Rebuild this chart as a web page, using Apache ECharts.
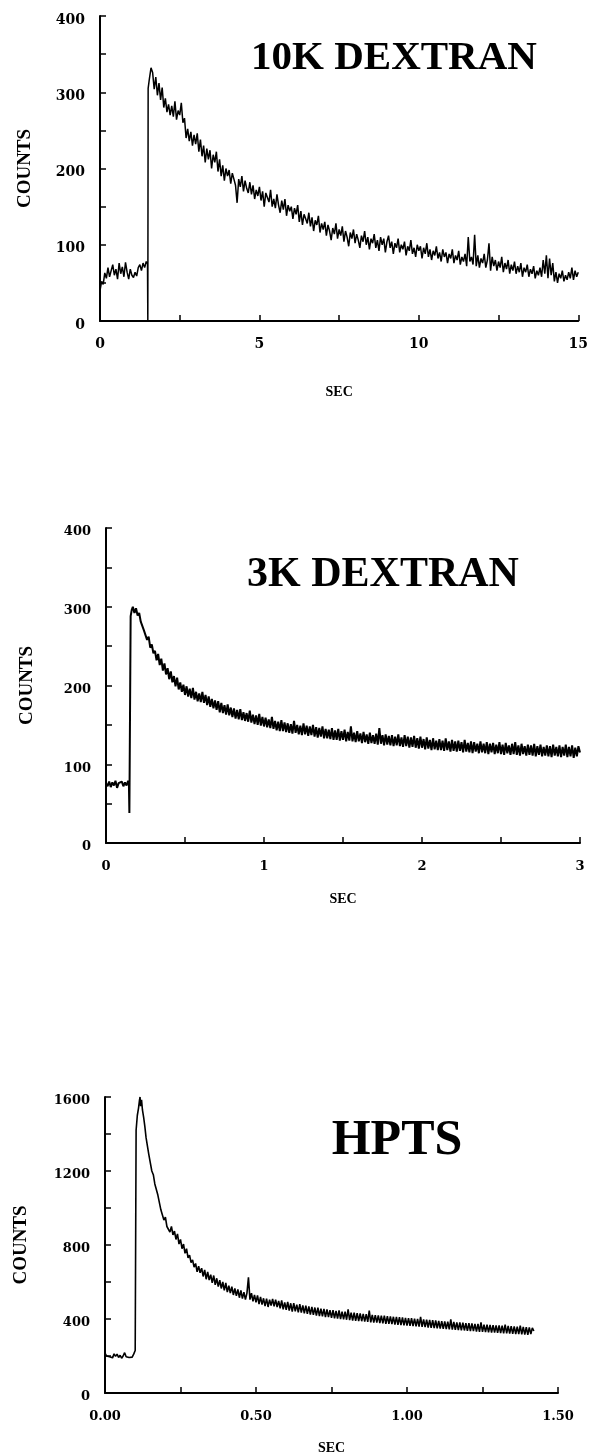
<!DOCTYPE html>
<html><head><meta charset="utf-8">
<script src="https://cdn.jsdelivr.net/npm/echarts@6/dist/echarts.min.js"></script>
<style>html,body{margin:0;padding:0;background:#fff}#c{width:591px;height:1456px}</style>
</head><body><div id="c"></div><script>
// ---- data: [seconds, counts] ----
const dextran10k = [[0,40],[0.05,52],[0.1,48],[0.15,63],[0.2,56],[0.25,70],[0.3,58],[0.35,66],[0.4,74],[0.45,60],[0.5,68],[0.55,55],[0.6,76],[0.65,62],[0.7,71],[0.75,58],[0.8,77],[0.85,64],[0.9,55],[0.95,68],[1.0,60],[1.05,57],[1.1,64],[1.15,59],[1.2,70],[1.25,74],[1.3,66],[1.35,76],[1.4,70],[1.45,78],[1.49,75],[1.5,0],[1.51,305],
[1.55,318],[1.6,332],[1.65,326],[1.7,304],[1.75,320],[1.8,296],[1.85,312],[1.9,290],[1.95,306],[2.0,280],[2.05,292],[2.1,274],[2.15,284],[2.2,270],[2.25,282],[2.3,268],[2.35,288],[2.4,264],[2.45,276],[2.5,270],[2.55,286],[2.6,260],[2.65,266],[2.7,240],[2.75,252],[2.8,236],[2.85,248],[2.9,230],[2.95,244],[3.0,232],[3.05,246],[3.1,222],[3.15,238],[3.2,216],[3.25,230],[3.3,208],[3.35,226],[3.4,212],[3.45,224],[3.5,200],[3.55,218],[3.6,208],[3.65,222],[3.7,196],[3.75,212],[3.8,190],[3.85,204],[3.9,184],[3.95,200],[4.0,190],[4.05,198],[4.1,180],[4.15,194],[4.2,186],[4.25,178],[4.3,155],[4.35,186],[4.4,176],[4.45,190],[4.5,170],[4.55,184],[4.6,174],[4.65,168],[4.7,182],[4.75,166],[4.8,178],[4.85,160],[4.9,172],[4.95,164],[5.0,176],[5.05,158],[5.1,170],[5.15,150],[5.2,168],[5.25,162],[5.3,156],[5.35,172],[5.4,150],[5.45,160],[5.5,148],[5.55,166],[5.6,152],[5.65,142],[5.7,158],[5.75,146],[5.8,160],[5.85,138],[5.9,152],[5.95,144],[6.0,150],[6.05,134],[6.1,148],[6.15,140],[6.2,152],[6.25,130],[6.3,144],[6.35,126],[6.4,140],[6.45,134],[6.5,128],[6.55,142],[6.6,124],[6.65,136],[6.7,118],[6.75,132],[6.8,126],[6.85,138],[6.9,116],[6.95,128],[7.0,120],[7.05,130],[7.1,112],[7.15,126],[7.2,118],[7.25,106],[7.3,122],[7.35,114],[7.4,128],[7.45,108],[7.5,120],[7.55,112],[7.6,124],[7.65,104],[7.7,118],[7.75,110],[7.8,98],[7.85,116],[7.9,108],[7.95,120],[8.0,102],[8.05,114],[8.1,106],[8.15,96],[8.2,112],[8.25,104],[8.3,118],[8.35,100],[8.4,110],[8.45,94],[8.5,108],[8.55,102],[8.6,114],[8.65,96],[8.7,106],[8.75,92],[8.8,110],[8.85,100],[8.9,108],[8.95,90],[9.0,104],[9.05,112],[9.1,96],[9.15,104],[9.2,88],[9.25,102],[9.3,96],[9.35,108],[9.4,90],[9.45,100],[9.5,94],[9.55,104],[9.6,86],[9.65,98],[9.7,92],[9.75,106],[9.8,88],[9.85,96],[9.9,84],[9.95,100],[10.0,92],[10.05,98],[10.1,82],[10.15,96],[10.2,88],[10.25,102],[10.3,84],[10.35,94],[10.4,80],[10.45,92],[10.5,86],[10.55,98],[10.6,82],[10.65,90],[10.7,78],[10.75,94],[10.8,84],[10.85,90],[10.9,76],[10.95,88],[11.0,82],[11.05,94],[11.1,76],[11.15,86],[11.2,80],[11.25,92],[11.3,74],[11.35,84],[11.4,78],[11.45,88],[11.5,72],[11.55,110],[11.6,78],[11.65,84],[11.7,74],[11.75,113],[11.8,72],[11.85,86],[11.9,70],[11.95,82],[12.0,76],[12.05,88],[12.1,70],[12.15,80],[12.2,102],[12.25,66],[12.3,84],[12.35,72],[12.4,80],[12.45,66],[12.5,78],[12.55,70],[12.6,84],[12.65,64],[12.7,76],[12.75,68],[12.8,80],[12.85,62],[12.9,74],[12.95,66],[13.0,78],[13.05,62],[13.1,72],[13.15,64],[13.2,76],[13.25,58],[13.3,70],[13.35,64],[13.4,74],[13.45,58],[13.5,68],[13.55,62],[13.6,72],[13.65,56],[13.7,66],[13.75,60],[13.8,70],[13.85,58],[13.9,80],[13.95,62],[14.0,86],[14.05,56],[14.1,82],[14.15,60],[14.2,76],[14.25,52],[14.3,64],[14.35,50],[14.4,62],[14.45,56],[14.5,66],[14.55,52],[14.6,60],[14.65,54],[14.7,64],[14.75,56],[14.8,70],[14.85,54],[14.9,66],[14.95,58],[15.0,64]];

const dextran3k = [[0,76],[0.01,72],[0.02,78],[0.03,71],[0.04,77],[0.05,73],[0.06,79],[0.07,70],[0.08,76],[0.09,74],[0.10,78],[0.11,72],[0.12,77],[0.13,73],[0.14,79],[0.145,75],[0.148,38],[0.156,288],[0.163,296],
[0.17,300],[0.18,292],[0.19,298],[0.20,289],[0.21,292],[0.22,281],[0.23,280],[0.24,270],[0.25,269],[0.26,258],[0.27,262],[0.28,248],[0.29,252],[0.30,241],[0.31,244],[0.32,232],[0.33,240],[0.34,226],[0.35,234],[0.36,219],[0.37,228],[0.38,214],[0.39,222],[0.40,208],[0.41,218],[0.42,204],[0.43,212],[0.44,199],[0.45,210],[0.46,195],[0.47,204],[0.48,192],[0.49,201],[0.50,188],[0.51,199],[0.52,186],[0.53,196],[0.54,184],[0.55,197],[0.56,182],[0.57,192],[0.58,180],[0.59,190],[0.60,179],[0.61,192],[0.62,178],[0.63,188],[0.64,175],[0.65,186],[0.66,173],[0.67,183],[0.68,171],[0.69,181],[0.70,169],[0.71,180],[0.72,166],[0.73,178],[0.74,165],[0.75,175],[0.76,163],[0.77,176],[0.78,162],[0.79,172],[0.80,160],[0.81,171],[0.82,158],[0.83,169],[0.84,157],[0.85,170],[0.86,156],[0.87,166],[0.88,155],[0.89,165],[0.90,154],[0.91,168],[0.92,153],[0.93,163],[0.94,151],[0.95,162],[0.96,150],[0.97,164],[0.98,149],[0.99,160],[1.00,148],[1.01,159],[1.02,147],[1.03,157],[1.04,146],[1.05,160],[1.06,145],[1.07,155],[1.08,143],[1.09,154],[1.10,142],[1.11,156],[1.12,142],[1.13,153],[1.14,141],[1.15,152],[1.16,140],[1.17,151],[1.18,139],[1.19,155],[1.20,140],[1.21,150],[1.22,138],[1.23,149],[1.24,137],[1.25,152],[1.26,138],[1.27,149],[1.28,136],[1.29,148],[1.30,137],[1.31,150],[1.32,135],[1.33,147],[1.34,134],[1.35,146],[1.36,135],[1.37,148],[1.38,133],[1.39,145],[1.40,133],[1.41,144],[1.42,132],[1.43,146],[1.44,131],[1.45,143],[1.46,131],[1.47,145],[1.48,130],[1.49,142],[1.50,131],[1.51,144],[1.52,129],[1.53,141],[1.54,130],[1.55,148],[1.56,129],[1.57,140],[1.58,128],[1.59,142],[1.60,129],[1.61,139],[1.62,127],[1.63,141],[1.64,128],[1.65,138],[1.66,126],[1.67,140],[1.68,127],[1.69,137],[1.70,126],[1.71,139],[1.72,125],[1.73,146],[1.74,126],[1.75,137],[1.76,124],[1.77,138],[1.78,125],[1.79,136],[1.80,124],[1.81,137],[1.82,123],[1.83,135],[1.84,124],[1.85,138],[1.86,123],[1.87,134],[1.88,122],[1.89,137],[1.90,123],[1.91,135],[1.92,121],[1.93,134],[1.94,122],[1.95,136],[1.96,121],[1.97,133],[1.98,120],[1.99,135],[2.00,121],[2.01,132],[2.02,119],[2.03,134],[2.04,120],[2.05,131],[2.06,118],[2.07,133],[2.08,119],[2.09,130],[2.10,118],[2.11,132],[2.12,118],[2.13,130],[2.14,117],[2.15,133],[2.16,118],[2.17,129],[2.18,116],[2.19,131],[2.20,117],[2.21,129],[2.22,116],[2.23,130],[2.24,117],[2.25,128],[2.26,115],[2.27,131],[2.28,116],[2.29,127],[2.30,115],[2.31,129],[2.32,114],[2.33,128],[2.34,116],[2.35,126],[2.36,114],[2.37,129],[2.38,115],[2.39,126],[2.40,114],[2.41,128],[2.42,113],[2.43,126],[2.44,115],[2.45,127],[2.46,113],[2.47,125],[2.48,114],[2.49,128],[2.50,113],[2.51,125],[2.52,112],[2.53,127],[2.54,114],[2.55,124],[2.56,112],[2.57,126],[2.58,113],[2.59,128],[2.60,112],[2.61,124],[2.62,111],[2.63,126],[2.64,113],[2.65,123],[2.66,111],[2.67,125],[2.68,112],[2.69,124],[2.70,111],[2.71,126],[2.72,110],[2.73,123],[2.74,112],[2.75,125],[2.76,110],[2.77,122],[2.78,111],[2.79,124],[2.80,110],[2.81,123],[2.82,109],[2.83,125],[2.84,111],[2.85,122],[2.86,110],[2.87,124],[2.88,109],[2.89,122],[2.90,111],[2.91,125],[2.92,109],[2.93,122],[2.94,110],[2.95,124],[2.96,108],[2.97,121],[2.98,110],[2.99,123],[3.00,115]];

const hpts = [[0,215],[0.005,200],[0.01,208],[0.015,196],[0.02,205],[0.025,190],[0.03,212],[0.035,198],[0.04,210],[0.045,192],[0.05,204],[0.055,188],[0.06,200],[0.065,218],[0.07,196],[0.075,206],[0.08,192],[0.085,200],[0.09,194],[0.095,210],[0.098,200],[0.1,230],[0.103,1420],[0.107,1500],[0.111,1540],[0.114,1580],[0.116,1600],[0.118,1550],[0.121,1585],[0.124,1530],[0.128,1490],[0.132,1440],[0.136,1380],
[0.14,1340],[0.145,1290],[0.15,1280],[0.155,1200],[0.16,1180],[0.165,1130],[0.17,1130],[0.175,1070],[0.18,1060],[0.185,990],[0.19,985],[0.195,935],[0.2,950],[0.205,900],[0.21,905],[0.215,870],[0.22,900],[0.225,855],[0.23,875],[0.235,830],[0.24,860],[0.245,805],[0.25,830],[0.255,780],[0.26,805],[0.265,755],[0.27,780],[0.275,730],[0.28,745],[0.285,705],[0.29,720],[0.295,680],[0.3,700],[0.305,655],[0.31,685],[0.315,650],[0.32,675],[0.325,630],[0.33,665],[0.335,615],[0.34,655],[0.345,610],[0.35,640],[0.355,595],[0.36,635],[0.365,585],[0.37,620],[0.375,575],[0.38,610],[0.385,565],[0.39,600],[0.395,555],[0.4,595],[0.405,545],[0.41,580],[0.415,540],[0.42,575],[0.425,530],[0.43,565],[0.435,525],[0.44,560],[0.445,515],[0.45,555],[0.455,510],[0.46,545],[0.465,505],[0.47,540],[0.475,625],[0.48,505],[0.485,540],[0.49,495],[0.495,530],[0.5,490],[0.505,528],[0.51,480],[0.515,520],[0.52,478],[0.525,512],[0.53,470],[0.535,510],[0.54,465],[0.545,505],
[0.55,472],[0.555,508],[0.56,468],[0.565,505],[0.57,465],[0.575,498],[0.58,458],[0.585,500],[0.59,452],[0.595,490],[0.6,450],[0.605,492],[0.61,446],[0.615,485],[0.62,440],[0.625,486],[0.63,442],[0.635,478],[0.64,436],[0.645,480],[0.65,434],[0.655,474],[0.66,430],[0.665,472],[0.67,428],[0.675,468],[0.68,424],[0.685,466],[0.69,422],[0.695,462],[0.7,418],[0.705,462],[0.71,416],[0.715,456],[0.72,414],[0.725,455],[0.73,410],[0.735,452],[0.74,410],[0.745,448],[0.75,406],[0.755,448],[0.76,404],[0.765,444],[0.77,402],[0.775,446],[0.78,400],[0.785,440],[0.79,398],[0.795,440],[0.8,396],[0.805,452],[0.81,394],[0.815,434],[0.82,392],[0.825,434],[0.83,390],[0.835,432],[0.84,388],[0.845,430],[0.85,388],[0.855,428],[0.86,386],[0.865,426],[0.87,384],[0.875,446],[0.88,382],[0.885,422],[0.89,380],[0.895,421],[0.9,380],[0.905,420],[0.91,378],[0.915,418],[0.92,376],[0.925,418],[0.93,374],[0.935,416],[0.94,374],[0.945,414],[0.95,372],[0.955,412],[0.96,370],[0.965,411],[0.97,368],[0.975,410],[0.98,367],[0.985,408],[0.99,366],[0.995,406],[1.0,364],[1.005,405],[1.01,363],[1.015,404],[1.02,362],[1.025,402],[1.03,360],[1.035,401],[1.04,359],[1.045,412],[1.05,358],[1.055,398],[1.06,356],[1.065,396],[1.07,354],[1.075,395],[1.08,352],[1.085,394],[1.09,351],[1.095,392],[1.1,350],[1.105,390],[1.11,348],[1.115,389],[1.12,347],[1.125,387],[1.13,346],[1.135,386],[1.14,344],[1.145,398],[1.15,343],[1.155,384],[1.16,342],[1.165,382],[1.17,340],[1.175,381],[1.18,339],[1.185,380],[1.19,338],[1.195,378],[1.2,336],[1.205,377],[1.21,335],[1.215,376],[1.22,334],[1.225,374],[1.23,332],[1.235,373],[1.24,331],[1.245,382],[1.25,330],[1.255,370],[1.26,329],[1.265,369],[1.27,328],[1.275,368],[1.28,327],[1.285,367],[1.29,326],[1.295,366],[1.3,325],[1.305,365],[1.31,324],[1.315,364],[1.32,323],[1.325,370],[1.33,322],[1.335,362],[1.34,321],[1.345,361],[1.35,320],[1.355,360],[1.36,319],[1.365,359],[1.37,318],[1.375,364],[1.38,317],[1.385,357],[1.39,316],[1.395,356],[1.4,315],[1.405,355],[1.41,318],[1.415,352],[1.42,335]];

const titles = ['10K DEXTRAN', '3K DEXTRAN', 'HPTS'];
const xName = 'SEC', yName = 'COUNTS';

// ---- chart ----
const chart = echarts.init(document.getElementById('c'), null, {renderer: 'canvas'});
const BLACK = '#000';
const TICKFONT = 'DejaVu Serif';
const SERIF = 'Liberation Serif';
function isMult(v, step) { const r = v / step; return Math.abs(r - Math.round(r)) < 1e-6; }

function xAx(grid, max, interval, labelStep, digits, nameGap, fs, margin) {
  return {
    type: 'value', gridIndex: grid, min: 0, max: max, interval: interval,
    name: xName, nameLocation: 'middle', nameGap: nameGap,
    nameTextStyle: {fontFamily: SERIF, fontWeight: 'bold', fontSize: 14, color: BLACK},
    axisLine: {show: true, onZero: false, lineStyle: {color: BLACK, width: 2}},
    axisTick: {show: true, inside: true, length: 6, lineStyle: {color: BLACK, width: 1.5}},
    axisLabel: {margin: margin, color: BLACK, fontFamily: TICKFONT, fontWeight: 'bold', fontSize: fs,
      showMinLabel: true, showMaxLabel: true,
      formatter: v => isMult(v, labelStep) ? v.toFixed(digits) : ''},
    splitLine: {show: false}
  };
}
function yAx(grid, max, interval, labelStep, nameGap, fs) {
  return {
    type: 'value', gridIndex: grid, min: 0, max: max, interval: interval,
    name: yName, nameLocation: 'middle', nameGap: nameGap,
    nameTextStyle: {fontFamily: SERIF, fontWeight: 'bold', fontSize: 19, color: BLACK},
    axisLine: {show: true, onZero: false, lineStyle: {color: BLACK, width: 2}},
    axisTick: {show: true, inside: true, length: 6, lineStyle: {color: BLACK, width: 1.5}},
    axisLabel: {margin: 15, color: BLACK, fontFamily: TICKFONT, fontWeight: 'bold', fontSize: fs,
      showMinLabel: true, showMaxLabel: true,
      formatter: v => isMult(v, labelStep) ? '{a|' + v + '}' : '',
      rich: {a: {fontFamily: TICKFONT, fontWeight: 'bold', fontSize: fs, color: BLACK, padding: [8, 0, 0, 0]}}},
    splitLine: {show: false}
  };
}
function lineSeries(idx, data, w) {
  return {type: 'line', xAxisIndex: idx, yAxisIndex: idx, data: data, showSymbol: false, symbol: 'none',
    lineStyle: {color: BLACK, width: w}, silent: true, animation: false};
}
function titleText(text, x, y, size) {
  return {type: 'text', x: x, y: y, silent: true,
    style: {text: text, font: 'bold ' + size + 'px "' + SERIF + '"', fill: BLACK,
      align: 'center', verticalAlign: 'middle', textAlign: 'center', textVerticalAlign: 'middle'}};
}

chart.setOption({
  animation: false,
  backgroundColor: '#fff',
  grid: [
    {left: 100, top: 16, width: 480, height: 305},
    {left: 106, top: 528, width: 474, height: 315},
    {left: 105, top: 1097, width: 453, height: 296}
  ],
  xAxis: [
    xAx(0, 15, 2.5, 5, 0, 64, 14, 16),
    xAx(1, 3, 0.5, 1, 0, 49, 13, 17),
    xAx(2, 1.5, 0.25, 0.5, 2, 48, 13, 17)
  ],
  yAxis: [
    yAx(0, 400, 50, 100, 65, 14),
    yAx(1, 400, 50, 100, 69, 13),
    yAx(2, 1600, 200, 400, 74, 13)
  ],
  series: [
    lineSeries(0, dextran10k, 1.5),
    lineSeries(1, dextran3k, 2.0),
    lineSeries(2, hpts, 1.6)
  ],
  graphic: [
    titleText(titles[0], 394, 58, 41),
    titleText(titles[1], 383, 575, 42),
    titleText(titles[2], 397, 1141, 50)
  ]
});
</script></body></html>
